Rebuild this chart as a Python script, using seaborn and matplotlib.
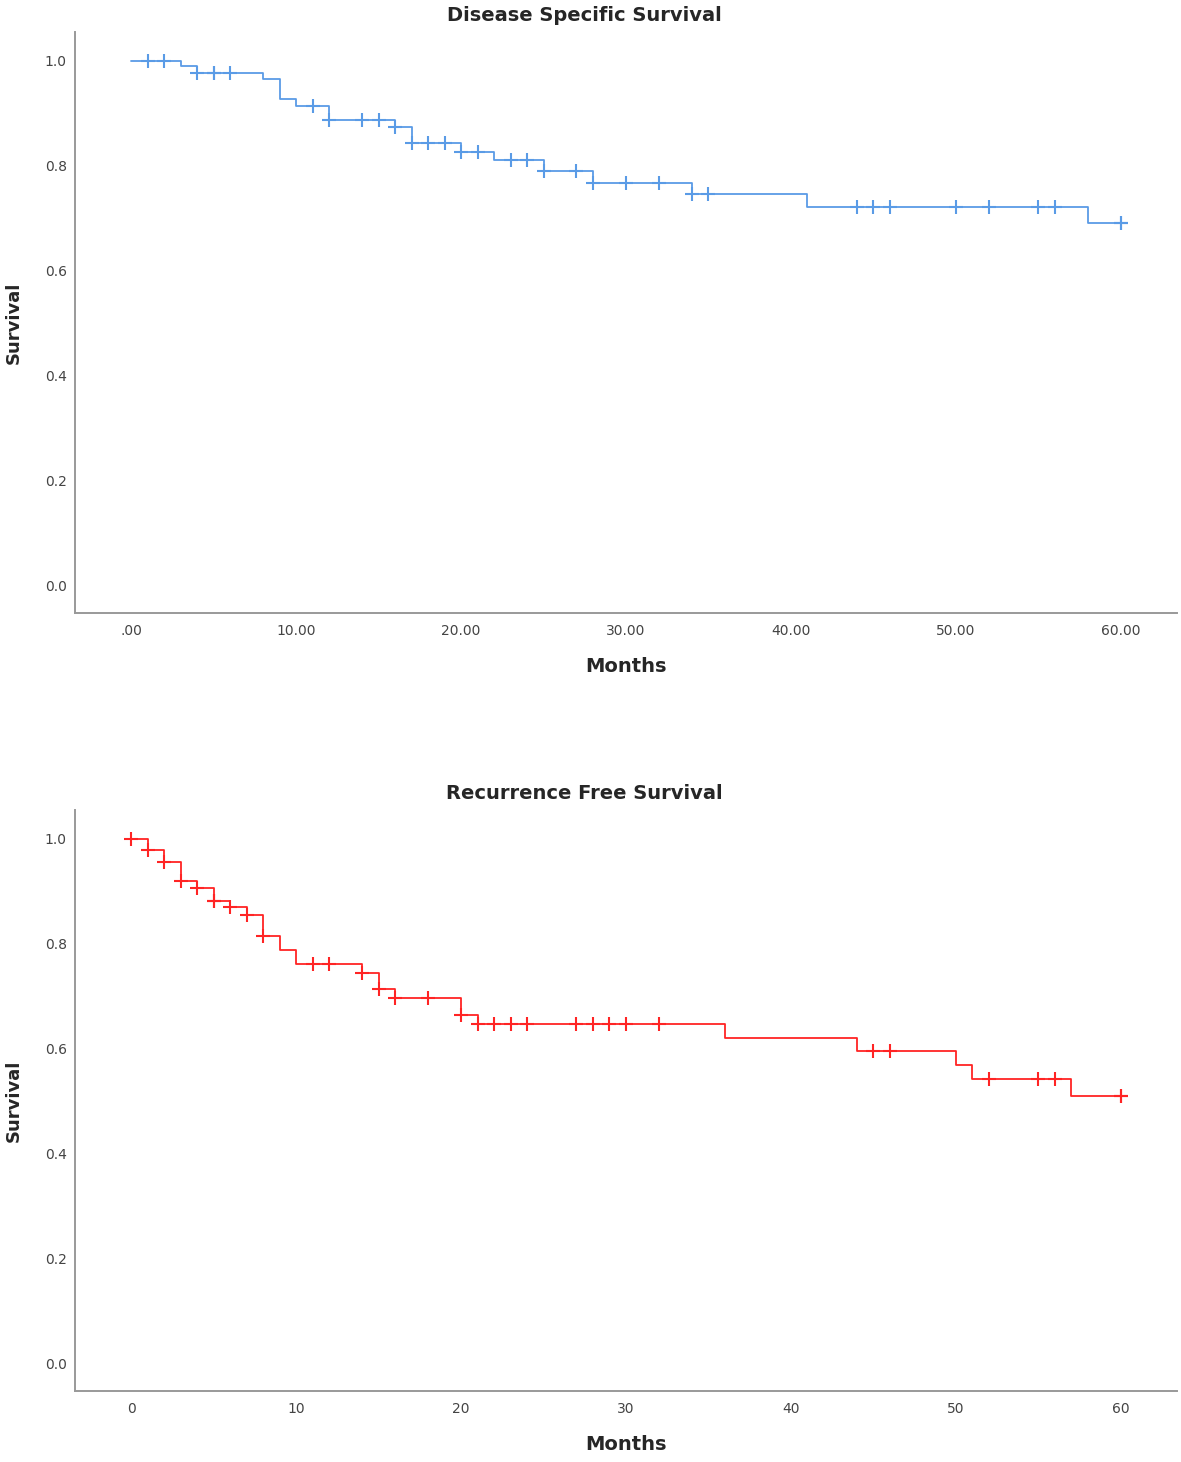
import numpy as np
import pandas as pd
import matplotlib
matplotlib.use("Agg")
import matplotlib.pyplot as plt
import seaborn as sns

# Disease specific survival (step curve + censored cases)
dss_times = [0, 3, 4, 8, 9, 10, 12, 16, 17, 20, 22, 25, 28, 34, 41, 58, 60]
dss_surv = [1.0, 0.99, 0.976, 0.965, 0.927, 0.914, 0.887, 0.874, 0.843, 0.827,
            0.81, 0.789, 0.768, 0.747, 0.722, 0.69, 0.69]
dss_censor = [1, 2, 4, 5, 5, 6, 11, 12, 14, 15, 16, 17, 18, 19, 20, 21, 23, 24,
              25, 27, 28, 30, 32, 34, 35, 44, 45, 46, 50, 52, 55, 56, 60, 60]

# Recurrence free survival
rfs_times = [0, 1, 2, 3, 4, 5, 6, 7, 8, 9, 10, 14, 15, 16, 20, 21, 36, 44, 50,
             51, 57, 60]
rfs_surv = [1.0, 0.979, 0.955, 0.919, 0.907, 0.882, 0.869, 0.855, 0.815, 0.787,
            0.761, 0.744, 0.714, 0.697, 0.663, 0.646, 0.620, 0.595, 0.568,
            0.541, 0.509, 0.509]
rfs_censor = [0, 1, 2, 3, 4, 5, 5, 6, 7, 8, 11, 12, 14, 15, 16, 18, 20, 21, 22,
              23, 24, 27, 28, 29, 30, 32, 45, 46, 52, 55, 56, 60, 60]

y_ticks = [0.0, 0.2, 0.4, 0.6, 0.8, 1.0]
x_ticks = [0, 10, 20, 30, 40, 50, 60]
dss_xlabels = [".00", "10.00", "20.00", "30.00", "40.00", "50.00", "60.00"]
rfs_xlabels = ["0", "10", "20", "30", "40", "50", "60"]

sns.set_style("white")
plt.rcParams["font.family"] = ["DejaVu Sans"]


def km_panel(ax, times, surv, censor, color, title, xlabels):
    curve = pd.DataFrame({"Months": times, "Survival": surv})
    sns.lineplot(data=curve, x="Months", y="Survival", estimator=None,
                 drawstyle="steps-post", color=color, lw=1.3, ax=ax)
    # censored cases sit on the curve value at their time
    idx = np.searchsorted(times, censor, side="right") - 1
    cens = pd.DataFrame({"Months": censor, "Survival": np.array(surv)[idx]})
    sns.scatterplot(data=cens, x="Months", y="Survival", marker="+", s=90,
                    color=color, linewidth=1.5, ax=ax, zorder=3)
    ax.set_xlim(-3.4, 63.4)
    ax.set_ylim(-0.053, 1.055)
    ax.set_xticks(x_ticks)
    ax.set_xticklabels(xlabels)
    ax.set_yticks(y_ticks)
    ax.set_yticklabels([f"{v:.1f}" for v in y_ticks])
    ax.tick_params(length=0, labelsize=10, labelcolor="#444444")
    ax.tick_params(axis="x", pad=8)
    ax.tick_params(axis="y", pad=6)
    for s in ["top", "right"]:
        ax.spines[s].set_visible(False)
    for s in ["left", "bottom"]:
        ax.spines[s].set_color("#999999")
        ax.spines[s].set_linewidth(1.4)
    ax.set_xlabel("Months", fontsize=14, fontweight="bold")
    ax.set_ylabel("Survival", fontsize=13, fontweight="bold")
    ax.xaxis.set_label_coords(0.5, -0.075)
    ax.yaxis.set_label_coords(-0.047, 0.5)
    ax.set_title(title, fontsize=14, fontweight="bold", x=0.462, pad=8)


fig = plt.figure(figsize=(11.81, 14.62), dpi=100)
ax1 = fig.add_axes([0.0635, 0.5807, 0.9331, 0.3974])
ax2 = fig.add_axes([0.0635, 0.0486, 0.9331, 0.3974])

km_panel(ax1, dss_times, dss_surv, dss_censor, "#5a9be6",
         "Disease Specific Survival", dss_xlabels)
km_panel(ax2, rfs_times, rfs_surv, rfs_censor, "#ff2424",
         "Recurrence Free Survival", rfs_xlabels)

fig.savefig("out.png", dpi=100)
